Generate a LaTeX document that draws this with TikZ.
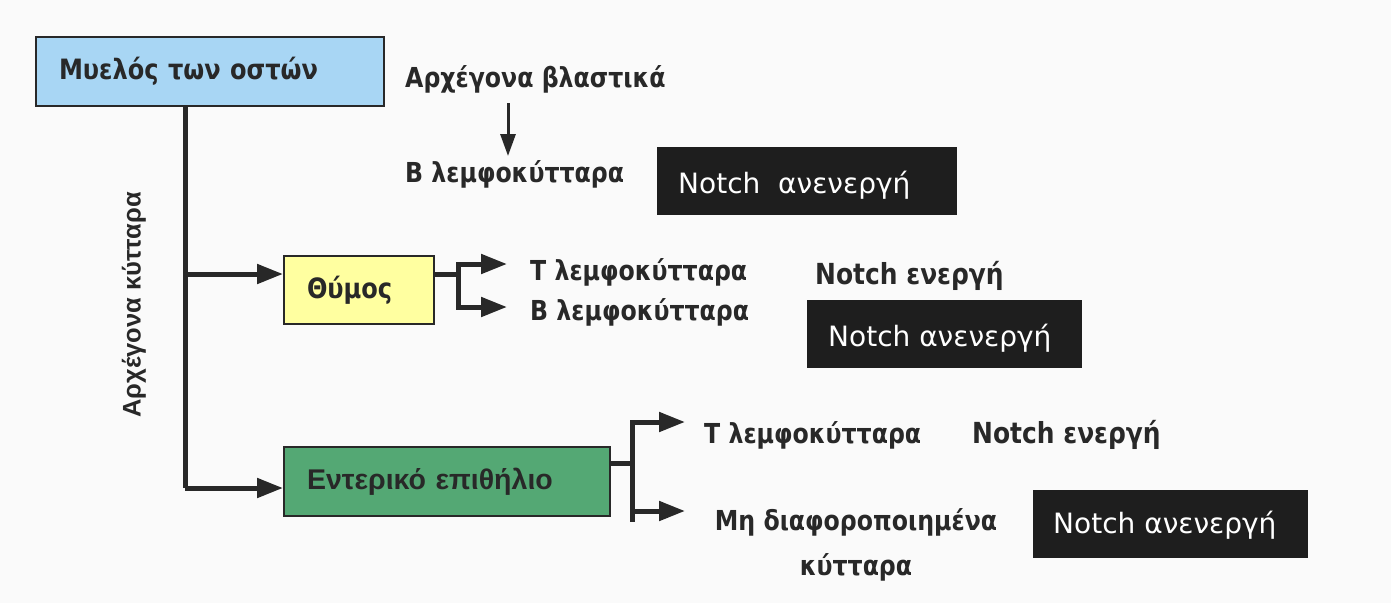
\documentclass[tikz,border=0pt]{standalone}
\usepackage{fontspec}
\setmainfont{DejaVu Sans}
\newfontfamily\darkfont[FakeStretch=0.86]{DejaVu Sans}
\newfontfamily\arialfont{Liberation Sans}
\usetikzlibrary{arrows.meta, positioning, calc}
\definecolor{paper}{RGB}{250,250,250}
\definecolor{inkgray}{RGB}{40,40,40}
\definecolor{marrowblue}{RGB}{168,214,244}
\definecolor{thymusyellow}{RGB}{255,255,160}
\definecolor{gutgreen}{RGB}{84,168,116}
\definecolor{notchblack}{RGB}{30,30,30}

\begin{document}
\begin{tikzpicture}[x=1pt, y=-1pt,
  organ/.style={draw=inkgray, line width=2pt, anchor=north west, inner xsep=23pt, inner ysep=0pt, align=left, text=inkgray},
  notchoff/.style={fill=notchblack, anchor=north west, minimum width=275pt, minimum height=68pt, inner sep=0pt},
  notchtext/.style={anchor=base west, text=white, inner sep=0pt, font=\fontsize{28}{30}\selectfont},
  celltext/.style={anchor=base west, inner sep=0pt, text=inkgray, font=\darkfont\bfseries\fontsize{27.5}{30}\selectfont},
  notchon/.style={celltext, font=\darkfont\bfseries\fontsize{29}{30}\selectfont},
  link/.style={draw=inkgray, line width=5pt},
  flow/.style={link, -{Triangle[length=26pt, width=19pt]}}]
  \fill[paper] (0,0) rectangle (1391,603);
  \useasboundingbox (0,0) rectangle (1391,603);

  % organs
  \node[organ, fill=marrowblue, minimum height=69pt, text width=302pt, font=\darkfont\bfseries\fontsize{28}{30}\selectfont] (marrow) at (35,36) {Μυελός των οστών};
  \node[organ, fill=thymusyellow, minimum height=68pt, text width=104pt, font=\darkfont\bfseries\fontsize{28}{30}\selectfont] (thymus) at (283,255) {Θύμος};
  \node[organ, fill=gutgreen, minimum height=69pt, text width=280pt, font=\arialfont\bfseries\fontsize{28.5}{30}\selectfont] (gut) at (283,446) {Εντερικό επιθήλιο};

  % marrow side
  \node[celltext] (stem) at (405,87) {Αρχέγονα βλαστικά};
  \node[celltext] (bmB) at (405,182) {Β λεμφοκύτταρα};
  \node[notchoff, minimum width=300pt] (offA) at (657,147) {};
  \node[notchtext] (offAtxt) at (678,193) {Notch\ \ ανενεργή};

  % thymus side
  \node[celltext] (thT) at (530,280) {Τ λεμφοκύτταρα};
  \node[celltext] (thB) at (530,320) {Β λεμφοκύτταρα};
  \node[notchon] (onA) at (815,284) {Notch ενεργή};
  \node[notchoff] (offB) at (807,300) {};
  \node[notchtext] (offBtxt) at (828,346) {Notch ανενεργή};

  % gut side
  \node[celltext] (gtT) at (704,443) {Τ λεμφοκύτταρα};
  \node[notchon] (onB) at (972,443) {Notch ενεργή};
  \node[celltext, anchor=north, align=center, font=\darkfont\bfseries\fontsize{27.5}{45}\selectfont] (undiff) at (856,508) {Μη διαφοροποιημένα\\κύτταρα};
  \node[notchoff] (offC) at (1033,490) {};
  \node[notchtext] (offCtxt) at (1053,533) {Notch ανενεργή};

  \node[rotate=90, inner sep=0pt, text=inkgray, font=\arialfont\bfseries\fontsize{25.5}{30}\selectfont] (precursor) at (134,305) {Αρχέγονα κύτταρα};

  % connectors
  \coordinate (trunk) at (185,488);
  \coordinate (thIn) at (185,274);
  \coordinate (drop) at (508,0);
  \draw[link] (marrow.south -| trunk) -- (trunk);
  \draw[flow] (thIn) -- (thIn -| thymus.west);
  \draw[flow] (trunk) -- (trunk -| gut.west);
  \draw[inkgray, line width=3pt, -{Triangle[length=22pt, width=15pt]}] (drop |- 0,103) -- (drop |- 0,156);

  \coordinate (thFork) at (458,274);
  \draw[link] (thFork -| thymus.east) -- (thFork);
  \draw[link] (458,262) -- (458,309);
  \draw[flow] (456,264) -- (507,264);
  \draw[flow] (456,307) -- (507,307);

  \coordinate (gtFork) at (632,463);
  \draw[link] (gtFork -| gut.east) -- (gtFork);
  \draw[link] (632,420) -- (632,522);
  \draw[flow] (630,422) -- (685,422);
  \draw[flow] (630,511) -- (685,511);
\end{tikzpicture}
\end{document}
